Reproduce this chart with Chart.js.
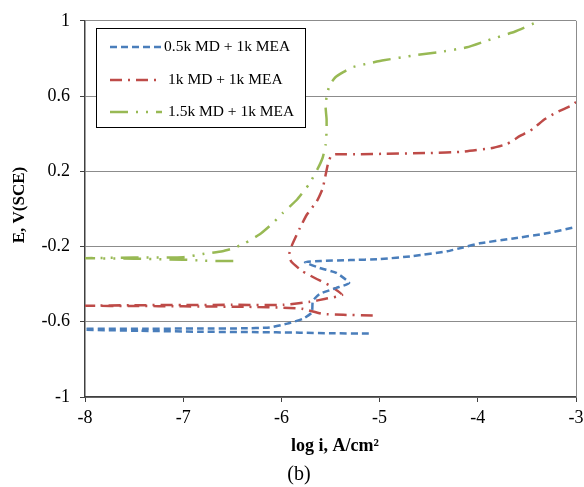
<!DOCTYPE html>
<html>
<head>
<meta charset="utf-8">
<script src="https://cdn.jsdelivr.net/npm/chart.js@4.4.1/dist/chart.umd.min.js"></script>
<style>
  html, body { margin: 0; padding: 0; background: #fff; }
  #c { display: block; }
</style>
</head>
<body>
<canvas id="c" width="584" height="487"></canvas>
<script>
// ---- Data ----
const seriesLabels = ["0.5k MD + 1k MEA", "1k MD + 1k MEA", "1.5k MD + 1k MEA"];

const blueX = [-5.11, -5.5, -5.81, -6.3, -6.83, -7.44, -8.0, -7.99, -7.4, -6.83, -6.4, -6.12, -5.94, -5.78, -5.69, -5.68, -5.61, -5.44, -5.31, -5.44, -5.61, -5.76, -5.6, -5.3, -5.0, -4.66, -4.31, -4.15, -3.98, -3.64, -3.30, -3.0];
const blueY = [-0.663, -0.661, -0.658, -0.655, -0.653, -0.648, -0.642, -0.637, -0.637, -0.636, -0.635, -0.63, -0.61, -0.584, -0.551, -0.489, -0.452, -0.42, -0.394, -0.34, -0.314, -0.283, -0.277, -0.272, -0.267, -0.251, -0.225, -0.205, -0.183, -0.157, -0.130, -0.096];

const redX = [-5.07, -5.37, -5.58, -5.79, -5.98, -6.3, -7.0, -7.5, -8.0, -7.5, -7.0, -6.5, -5.98, -5.71, -5.55, -5.38, -5.5, -5.65, -5.79, -5.90, -5.92, -5.89, -5.81, -5.74, -5.64, -5.58, -5.55, -5.52, -5.49, -5.45, -5.2, -4.945, -4.5, -4.15, -3.84, -3.70, -3.57, -3.44, -3.33, -3.21, -3.04, -3.0];
const redY = [-0.567, -0.563, -0.558, -0.531, -0.525, -0.521, -0.518, -0.516, -0.515, -0.512, -0.511, -0.51, -0.51, -0.494, -0.478, -0.457, -0.41, -0.37, -0.33, -0.28, -0.24, -0.19, -0.10, -0.03, 0.04, 0.108, 0.18, 0.252, 0.285, 0.29, 0.291, 0.293, 0.297, 0.304, 0.325, 0.346, 0.388, 0.425, 0.473, 0.510, 0.552, 0.568];

const greenX = [-6.49, -6.6, -6.8, -7.0, -7.5, -8.0, -7.5, -7.0, -6.8, -6.6, -6.49, -6.37, -6.22, -6.10, -5.99, -5.84, -5.72, -5.63, -5.58, -5.55, -5.54, -5.54, -5.55, -5.54, -5.51, -5.45, -5.37, -5.28, -5.1, -4.96, -4.64, -4.41, -4.11, -3.90, -3.62, -3.37];
const greenY = [-0.277, -0.277, -0.275, -0.27, -0.265, -0.262, -0.259, -0.257, -0.24, -0.225, -0.209, -0.182, -0.135, -0.082, -0.024, 0.05, 0.13, 0.214, 0.272, 0.34, 0.41, 0.478, 0.542, 0.595, 0.658, 0.70, 0.727, 0.753, 0.775, 0.79, 0.817, 0.832, 0.859, 0.896, 0.943, 1.0];

const xTicks = [-8, -7, -6, -5, -4, -3];
const yTicks = [-1, -0.6, -0.2, 0.2, 0.6, 1];
const yTickLabels = ["-1", "-0.6", "-0.2", "0.2", "0.6", "1"];

const xTitle = "log i, A/cm\u00B2";
const yTitle = "E, V(SCE)";
const subCaption = "(b)";

// ---- Styles ----
const colors = ["#4a7ebb", "#be4b48", "#98b954"];
const dashes = [[7, 4], [12, 6, 2, 6], [18, 8, 2, 8, 2, 8]];
const SERIF = "'Liberation Serif', 'Times New Roman', serif";

function pts(xs, ys) { return xs.map((x, i) => ({ x: x, y: ys[i] })); }

const datasets = [pts(blueX, blueY), pts(redX, redY), pts(greenX, greenY)].map((d, i) => ({
  label: seriesLabels[i],
  data: d,
  showLine: true,
  borderColor: colors[i],
  backgroundColor: colors[i],
  borderWidth: 2.5,
  borderDash: dashes[i],
  pointRadius: 0,
  tension: 0.15,
  fill: false
}));

const overlay = {
  id: 'overlay',
  afterDatasetsDraw(chart) {
    const ctx = chart.ctx;
    const a = chart.chartArea;
    ctx.save();
    // right border of plot area
    ctx.strokeStyle = '#8c8c8c';
    ctx.lineWidth = 1;
    ctx.beginPath();
    ctx.moveTo(Math.round(a.right) + 0.5, a.top);
    ctx.lineTo(Math.round(a.right) + 0.5, a.bottom);
    ctx.stroke();

    // legend box
    const bx = 96.5, by = 28.5, bw = 209, bh = 99;
    ctx.fillStyle = '#fff';
    ctx.fillRect(bx, by, bw, bh);
    ctx.strokeStyle = '#000';
    ctx.lineWidth = 1;
    ctx.setLineDash([]);
    ctx.strokeRect(bx, by, bw, bh);
    const rowsY = [47, 80, 112];
    ctx.font = '15.5px ' + SERIF;
    ctx.textBaseline = 'middle';
    ctx.textAlign = 'left';
    chart.data.datasets.forEach((ds, i) => {
      ctx.strokeStyle = ds.borderColor;
      ctx.lineWidth = 2.5;
      ctx.setLineDash(ds.borderDash);
      ctx.beginPath();
      ctx.moveTo(110, rowsY[i]);
      ctx.lineTo(162, rowsY[i]);
      ctx.stroke();
      ctx.setLineDash([]);
      ctx.fillStyle = '#000';
      ctx.fillText(ds.label, i === 0 ? 164 : 168, rowsY[i]);
    });

    // axis titles
    ctx.fillStyle = '#000';
    ctx.textAlign = 'center';
    ctx.textBaseline = 'middle';
    ctx.font = 'bold 18px ' + SERIF;
    ctx.fillText(xTitle, 335, 446);
    ctx.font = '20px ' + SERIF;
    ctx.fillText(subCaption, 299, 475);
    ctx.save();
    ctx.translate(20, 205);
    ctx.rotate(-Math.PI / 2);
    ctx.font = 'bold 17px ' + SERIF;
    ctx.fillText(yTitle, 0, 0);
    ctx.restore();
    ctx.restore();
  }
};

new Chart(document.getElementById('c'), {
  type: 'scatter',
  data: { datasets: datasets },
  options: {
    responsive: false,
    animation: false,
    events: [],
    layout: { padding: { left: 0, right: 0, top: 18, bottom: 0 } },
    plugins: { legend: { display: false }, tooltip: { enabled: false }, title: { display: false } },
    scales: {
      x: {
        type: 'linear', min: -8, max: -3,
        afterBuildTicks: s => { s.ticks = xTicks.map(v => ({ value: v })); },
        afterFit: s => { s.height = 90; s.paddingRight = 8; },
        ticks: { color: '#000', font: { family: SERIF, size: 18 }, padding: 5, maxRotation: 0, callback: v => String(v) },
        grid: { drawOnChartArea: false, drawTicks: true, tickLength: 5, color: '#404040', lineWidth: 1 },
        border: { display: true, color: '#404040', width: 1.5 }
      },
      y: {
        type: 'linear', min: -1, max: 1,
        afterBuildTicks: s => { s.ticks = yTicks.map(v => ({ value: v })); },
        afterFit: s => { s.width = 85; },
        ticks: { color: '#000', font: { family: SERIF, size: 18 }, padding: 10,
          callback: v => { const i = yTicks.findIndex(t => Math.abs(t - v) < 1e-9); return i >= 0 ? yTickLabels[i] : ''; } },
        grid: { color: '#8c8c8c', lineWidth: 1, tickLength: 5, tickColor: '#404040' },
        border: { display: true, color: '#404040', width: 1.5 }
      }
    }
  },
  plugins: [overlay]
});
</script>
</body>
</html>
